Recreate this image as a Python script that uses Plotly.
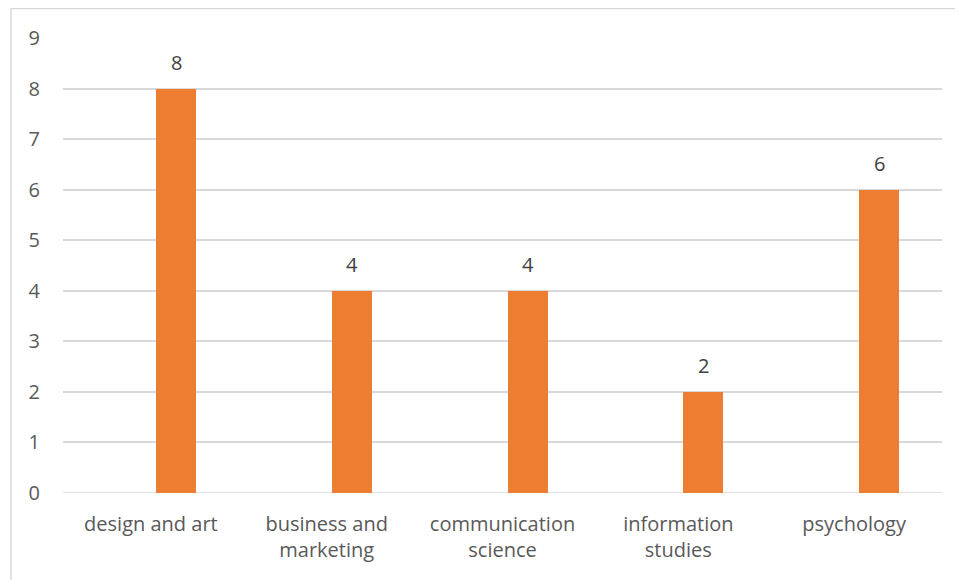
import plotly.graph_objects as go

categories = ["design and art", "business and<br>marketing", "communication<br>science", "information<br>studies", "psychology"]
values = [8, 4, 4, 2, 6]
y_ticks = [0, 1, 2, 3, 4, 5, 6, 7, 8, 9]

# page body has an 8px margin; compensate
OFF = 8
W, H = 963 - OFF, 580 - OFF
L, R, T, B = 63 - OFF, 21, 38 - OFF, 87
pw, ph = W - L - R, H - T - B

bar_w = 0.2275
bar_off = 0.029

fig = go.Figure()
fig.add_trace(go.Bar(
    x=list(range(len(categories))),
    y=values,
    width=bar_w,
    offset=bar_off,
    marker=dict(color="#ED7D31", line=dict(width=0)),
    hoverinfo="x+y",
))

annotations = [dict(
    x=i + bar_off + bar_w / 2, y=v, xref="x", yref="y",
    text=str(v), showarrow=False, yanchor="bottom", yshift=11,
    font=dict(family="Open Sans", size=20, color="#404040"),
) for i, v in enumerate(values)]

fig.update_layout(
    width=W, height=H,
    margin=dict(l=L, r=R, t=T, b=B),
    paper_bgcolor="white", plot_bgcolor="white",
    showlegend=False,
    font=dict(family="Open Sans", size=20, color="#595959"),
    xaxis=dict(
        range=[-0.5, 4.5],
        tickvals=list(range(len(categories))),
        ticktext=categories,
        showgrid=False, zeroline=False, showline=False,
        ticks="", ticklabelstandoff=17,
        tickfont=dict(size=20, color="#595959"),
        fixedrange=True,
    ),
    yaxis=dict(
        range=[0, 9],
        tickvals=y_ticks,
        showgrid=True, gridcolor="#D9D9D9", gridwidth=1.5,
        zeroline=False, showline=False, ticks="",
        ticklabelstandoff=22,
        tickfont=dict(size=20, color="#595959"),
        fixedrange=True,
    ),
    bargap=0,
    annotations=annotations,
    shapes=[dict(
        type="rect", xref="paper", yref="paper",
        x0=(11 - OFF - L) / pw, x1=(W + 5 - L) / pw,
        y0=(T + ph - (H + 5)) / ph, y1=(T + ph - 0.5) / ph,
        line=dict(color="#D9D9D9", width=1.5),
        fillcolor="rgba(0,0,0,0)", layer="below",
    ), dict(
        type="line", xref="paper", yref="y",
        x0=0, x1=1, y0=0, y1=0,
        line=dict(color="#D9D9D9", width=1.5), layer="below",
    )],
)

fig.write_html("out.html")
